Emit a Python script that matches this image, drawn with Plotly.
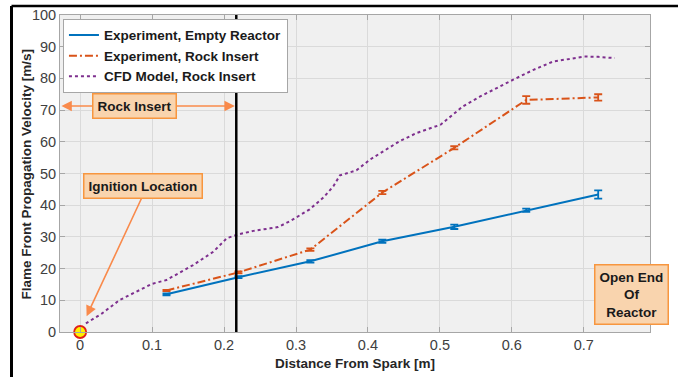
import plotly.graph_objects as go

# Measured flame-front velocities along the reactor
x_exp = [0.12, 0.22, 0.32, 0.42, 0.52, 0.62, 0.72]
v_empty = [11.9, 17.3, 22.3, 28.6, 33.2, 38.4, 43.4]
err_empty = [0.3, 0.3, 0.4, 0.5, 0.7, 0.5, 1.3]
v_rock = [13.1, 18.8, 26.0, 44.0, 58.1, 73.2, 74.0]
err_rock = [0.2, 0.3, 0.4, 0.5, 0.5, 1.2, 1.0]

# CFD prediction for the rock-insert case
x_cfd = [0.008, 0.03, 0.055, 0.079, 0.1, 0.12, 0.14, 0.157, 0.185, 0.204, 0.22,
         0.241, 0.264, 0.275, 0.292, 0.319, 0.338, 0.352, 0.361, 0.384, 0.403,
         0.421, 0.444, 0.468, 0.501, 0.532, 0.556, 0.602, 0.63, 0.657, 0.701,
         0.72, 0.743]
v_cfd = [2.7, 5.8, 10.1, 12.7, 15.2, 16.4, 18.8, 21.1, 25.3, 29.6, 30.8,
         31.9, 32.7, 33.1, 35.0, 38.7, 42.4, 46.0, 49.4, 51.0, 54.4,
         57.0, 60.2, 62.8, 65.4, 71.2, 74.3, 79.6, 82.7, 85.3, 86.9,
         86.8, 86.4]

x_ticks = [0, 0.1, 0.2, 0.3, 0.4, 0.5, 0.6, 0.7]
y_ticks = list(range(0, 101, 10))

insert_end = 0.217  # end of the rock insert
ignition = (0.0, 0.0)

BLUE = "#0072BD"
ORANGE = "#D95319"
PURPLE = "#7E2F8E"
ARROW = "#F98A4B"
BOX_FILL = "#F9D4AE"
BOX_EDGE = "#F7963F"
FONT = "Liberation Sans, Arial, sans-serif"
TITLE_FONT = dict(family=FONT, size=13.5, color="#262626", weight="bold")

fig = go.Figure()

fig.add_trace(go.Scatter(
    x=x_exp, y=v_empty, mode="lines", name="Experiment, Empty Reactor",
    line=dict(color=BLUE, width=2),
    error_y=dict(type="data", array=err_empty, color=BLUE, thickness=1.8, width=4),
))
fig.add_trace(go.Scatter(
    x=x_exp, y=v_rock, mode="lines", name="Experiment, Rock Insert",
    line=dict(color=ORANGE, width=2, dash="8px,3px,2px,3px"),
    error_y=dict(type="data", array=err_rock, color=ORANGE, thickness=1.8, width=4),
))
fig.add_trace(go.Scatter(
    x=x_cfd, y=v_cfd, mode="lines", name="CFD Model, Rock Insert",
    line=dict(color=PURPLE, width=2, dash="dot"),
))
fig.add_trace(go.Scatter(
    x=[ignition[0]], y=[ignition[1]], mode="markers", showlegend=False,
    marker=dict(size=12, color="#FFF200", line=dict(color="#E0201B", width=1.8)),
    cliponaxis=False,
))

# Vertical line marking the end of the rock insert
fig.add_shape(type="line", xref="x", yref="y", x0=insert_end, x1=insert_end,
              y0=0, y1=100, line=dict(color="black", width=2.5))

# Frame around the figure (top and left edges)
fig.add_shape(type="line", xref="paper", yref="paper", x0=-0.0822, x1=1.06,
              y0=1.0283, y1=1.0283, line=dict(color="black", width=2.5))
fig.add_shape(type="line", xref="paper", yref="paper", x0=-0.0822, x1=-0.0822,
              y0=1.0283, y1=-0.16, line=dict(color="black", width=3))

# Double-headed arrow across the rock insert
rock_y = 71.3
rock_label_x = 0.076
for tip in (-0.026, insert_end - 0.002):
    fig.add_annotation(x=tip, y=rock_y, ax=rock_label_x, ay=rock_y,
                       xref="x", yref="y", axref="x", ayref="y", text="",
                       showarrow=True, arrowhead=2, arrowsize=1.3, arrowwidth=1.6,
                       arrowcolor=ARROW)

box_font = dict(family=FONT, size=13.5, color="#1a1a1a", weight="bold")
fig.add_annotation(x=rock_label_x, y=rock_y, xref="x", yref="y", text="Rock Insert",
                   showarrow=False, font=box_font, bgcolor=BOX_FILL,
                   bordercolor=BOX_EDGE, borderwidth=1.5, borderpad=4)

# Ignition location callout
fig.add_annotation(x=0.009, y=5.0, ax=0.086, ay=42.5, xref="x", yref="y",
                   axref="x", ayref="y", text="", showarrow=True, arrowhead=2,
                   arrowsize=1.3, arrowwidth=1.6, arrowcolor=ARROW)
fig.add_annotation(x=0.088, y=46.2, xref="x", yref="y", text="Ignition Location",
                   showarrow=False, font=box_font, bgcolor=BOX_FILL,
                   bordercolor=BOX_EDGE, borderwidth=1.5, borderpad=4)

# Open end of the reactor
fig.add_annotation(x=0.766, y=11.7, xref="x", yref="y",
                   text="Open End<br>Of<br>Reactor", showarrow=False,
                   font=box_font, bgcolor=BOX_FILL, bordercolor=BOX_EDGE,
                   borderwidth=1.5, borderpad=4, align="center")

# Y-axis title placed tight against the tick labels
fig.add_annotation(x=-0.056, y=0.5, xref="paper", yref="paper",
                   text="Flame Front Propagation Velocity [m/s]", textangle=-90,
                   showarrow=False, font=TITLE_FONT, xanchor="center", yanchor="middle")

axis_common = dict(
    showgrid=True, gridcolor="#DADADA", gridwidth=1,
    showline=True, linecolor="#A6A6A6", linewidth=1, mirror="ticks",
    ticks="inside", ticklen=5, tickcolor="#A6A6A6",
    tickfont=dict(family=FONT, size=14.5, color="#404040"),
    zeroline=False, automargin=False,
)

fig.update_xaxes(range=[-0.028, 0.792], tickvals=x_ticks,
                 ticktext=[f"{t:g}" for t in x_ticks],
                 title=dict(text="Distance From Spark [m]", standoff=6, font=TITLE_FONT),
                 **axis_common)
fig.update_yaxes(range=[0, 100], tickvals=y_ticks, **axis_common)

fig.update_layout(
    width=678, height=377,
    margin=dict(l=60, r=28, t=15, b=45),
    paper_bgcolor="white", plot_bgcolor="#F0F0F0",
    font=dict(family=FONT),
    legend=dict(x=0.005, y=0.988, xanchor="left", yanchor="top",
                bgcolor="white", bordercolor="#A6A6A6", borderwidth=1,
                font=dict(family=FONT, size=13.5, color="#1a1a1a", weight="bold"),
                itemwidth=30, tracegroupgap=0),
)

fig.write_html("out.html")
